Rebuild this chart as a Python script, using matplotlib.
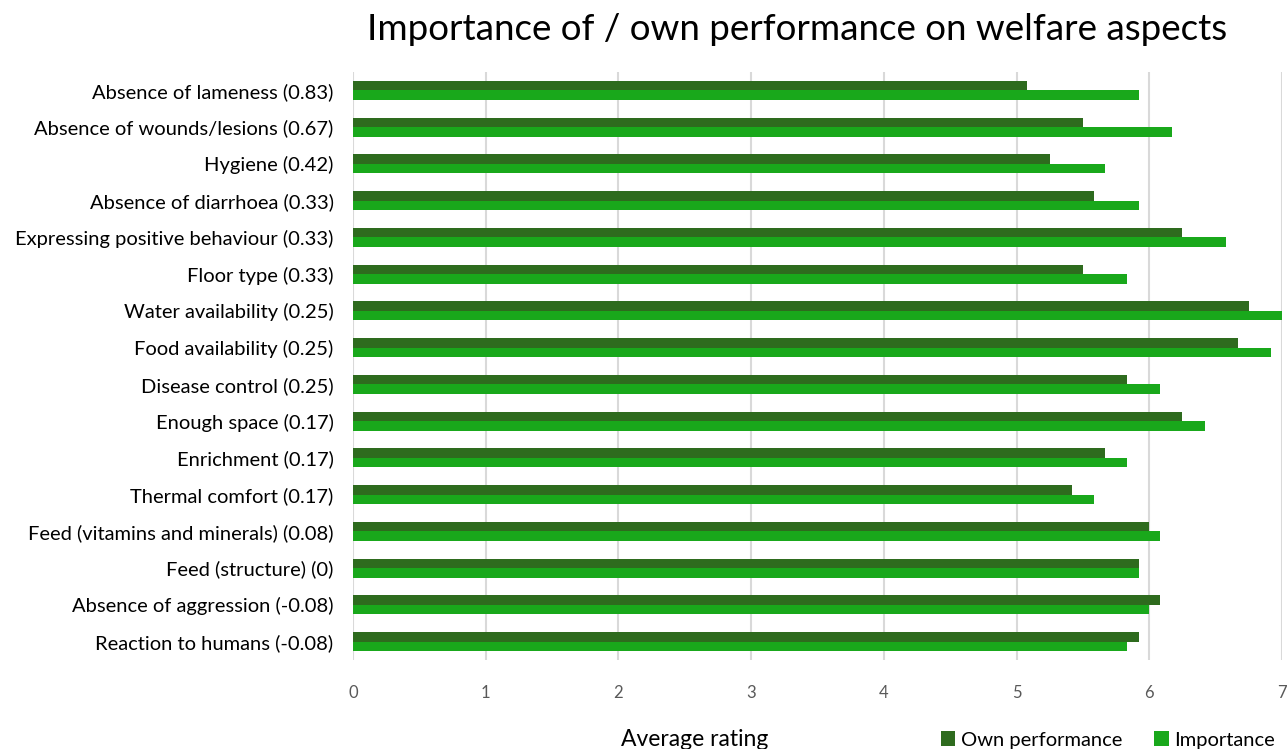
import numpy as np
import matplotlib.pyplot as plt

plt.rcParams['font.family'] = ['Lato', 'DejaVu Sans']

aspects = [
    'Absence of lameness (0.83)',
    'Absence of wounds/lesions (0.67)',
    'Hygiene (0.42)',
    'Absence of diarrhoea (0.33)',
    'Expressing positive behaviour (0.33)',
    'Floor type (0.33)',
    'Water availability (0.25)',
    'Food availability (0.25)',
    'Disease control (0.25)',
    'Enough space (0.17)',
    'Enrichment (0.17)',
    'Thermal comfort (0.17)',
    'Feed (vitamins and minerals) (0.08)',
    'Feed (structure) (0)',
    'Absence of aggression (-0.08)',
    'Reaction to humans (-0.08)',
]
own_performance = [5.08, 5.50, 5.25, 5.58, 6.25, 5.50, 6.75, 6.67,
                   5.83, 6.25, 5.67, 5.42, 6.00, 5.92, 6.08, 5.92]
importance = [5.92, 6.17, 5.67, 5.92, 6.58, 5.83, 7.00, 6.92,
              6.08, 6.42, 5.83, 5.58, 6.08, 5.92, 6.00, 5.83]

dark_green = '#2e6b1e'
light_green = '#19a81b'

fig = plt.figure(figsize=(12.87, 7.49), dpi=100)
ax = fig.add_axes([353 / 1287, 1 - 660 / 749, (1282 - 353) / 1287, (660 - 72) / 749])

y = np.arange(len(aspects))[::-1]
h = 0.26
ax.barh(y + h / 2, own_performance, height=h, color=dark_green, label='Own performance', zorder=3)
ax.barh(y - h / 2, importance, height=h, color=light_green, label='Importance', zorder=3)

ax.set_xlim(0, 7)
ax.set_ylim(-0.5, len(aspects) - 0.5)
ax.set_xticks(range(8))
ax.set_yticks(y)
ax.set_yticklabels(aspects, fontsize=14.5, color='#000000')
ax.tick_params(axis='y', length=0, pad=14)
ax.tick_params(axis='x', length=0, pad=18, labelsize=12, labelcolor='#595959')
ax.grid(axis='x', color='#d9d9d9', linewidth=1.5, zorder=0)
for s in ax.spines.values():
    s.set_visible(False)

fig.text(797 / 1287, 1 - 30 / 749, 'Importance of / own performance on welfare aspects',
         ha='center', va='center', fontsize=26.5)
fig.text(695 / 1287, 1 - 740 / 749, 'Average rating', ha='center', va='center', fontsize=16.5)

fig.legend(loc='center', bbox_to_anchor=(1108 / 1287, 1 - 740 / 749), ncol=2, frameon=False,
           fontsize=14.5, handlelength=0.7, handleheight=0.7, handletextpad=0.3, columnspacing=1.6)

fig.savefig('out.png', dpi=100)
